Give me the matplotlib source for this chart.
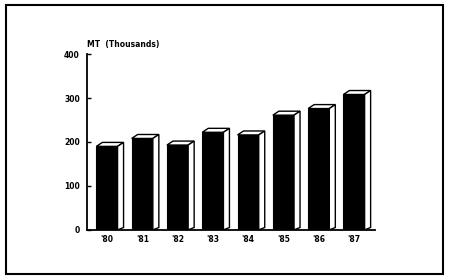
import matplotlib
matplotlib.use("Agg")
import matplotlib.pyplot as plt
from matplotlib.patches import Polygon, Rectangle

years = ["'80", "'81", "'82", "'83", "'84", "'85", "'86", "'87"]
values = [190, 208, 193, 222, 216, 261, 276, 308]
yticks = [0, 100, 200, 300, 400]

fig = plt.figure(figsize=(4.5, 2.8), dpi=100)
ax = fig.add_axes([0.193, 0.179, 0.64, 0.628])

w = 0.6
dx = 0.17
dy = 9
for i, v in enumerate(values):
    x0 = i - w / 2
    x1 = i + w / 2
    ax.add_patch(Rectangle((x0, 0), w, v, facecolor="black", edgecolor="black", lw=0.8, zorder=3))
    top = Polygon([(x0, v), (x1, v), (x1 + dx, v + dy), (x0 + dx, v + dy)], closed=True,
                  facecolor="white", edgecolor="black", lw=1.0, zorder=3)
    side = Polygon([(x1, 0), (x1 + dx, dy * 0.6), (x1 + dx, v + dy), (x1, v)], closed=True,
                   facecolor="white", edgecolor="black", lw=1.0, zorder=3)
    ax.add_patch(top)
    ax.add_patch(side)

ax.set_xlim(-0.57, 7.59)
ax.set_ylim(0, 400)
ax.set_xticks(range(len(years)))
ax.set_xticklabels(years, fontsize=5.5, fontweight="bold")
ax.set_yticks(yticks)
ax.set_yticklabels([str(t) for t in yticks], fontsize=5.5, fontweight="bold")
ax.tick_params(axis="x", length=0, pad=4)
ax.tick_params(axis="y", direction="in", length=3, width=1, pad=5)
for s in ["top", "right"]:
    ax.spines[s].set_visible(False)
for s in ["left", "bottom"]:
    ax.spines[s].set_linewidth(1.3)
ax.text(0.0, 1.03, "MT  (Thousands)", transform=ax.transAxes, fontsize=5.5,
        fontweight="bold", ha="left", va="bottom")

fig.patches.append(Rectangle((0.013, 0.021), 0.971, 0.961, transform=fig.transFigure,
                             fill=False, edgecolor="black", lw=1.5))
fig.savefig("out.png", dpi=100)
